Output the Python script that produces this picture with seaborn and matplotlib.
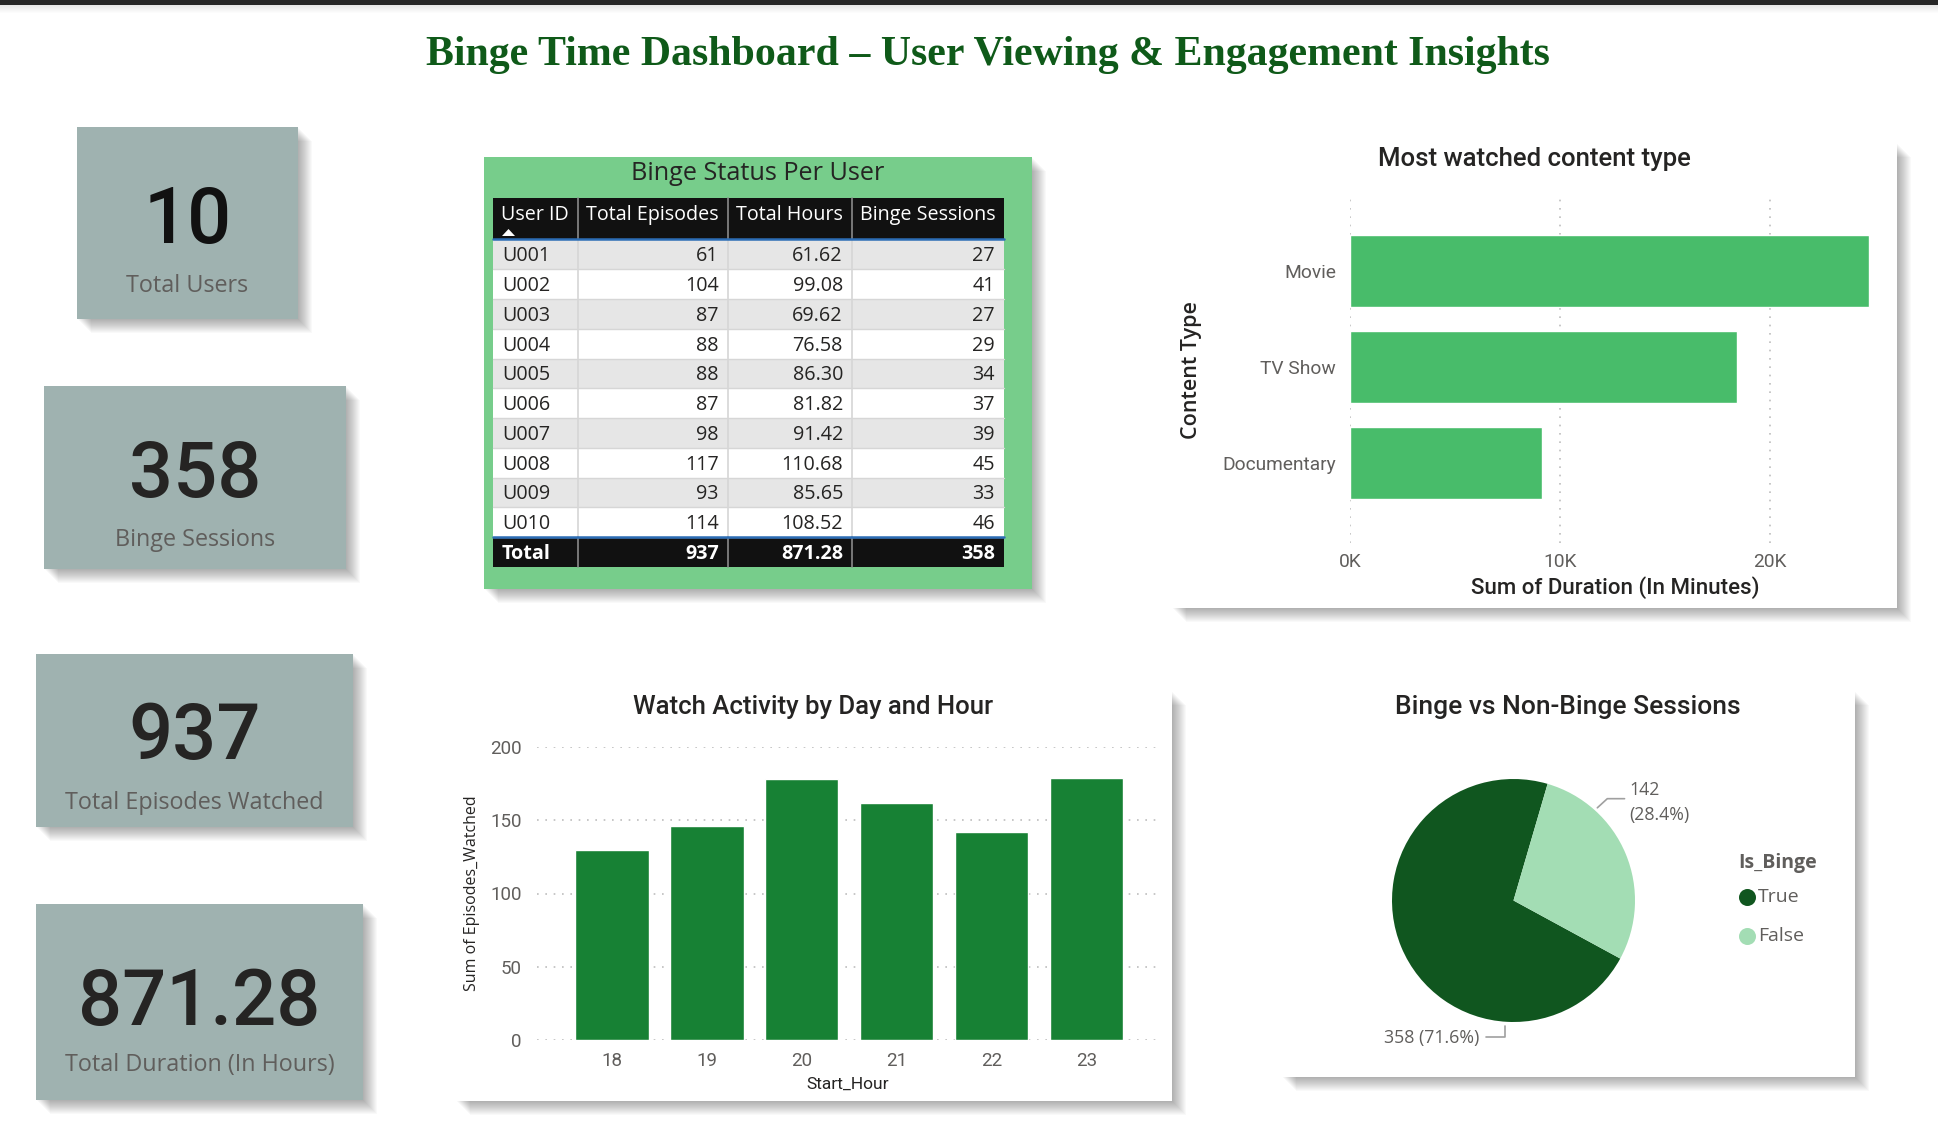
import pandas as pd
import seaborn as sns
import matplotlib.pyplot as plt
from matplotlib.patches import Rectangle, Polygon

W, H = 1938, 1124

# ---- data ----
dashboard_title = "Binge Time Dashboard – User Viewing & Engagement Insights"

kpi_values = ['10', '358', '937', '871.28']
kpi_labels = ['Total Users', 'Binge Sessions', 'Total Episodes Watched', 'Total Duration (In Hours)']

table_columns = ['User ID', 'Total Episodes', 'Total Hours', 'Binge Sessions']
user_ids = ['U001', 'U002', 'U003', 'U004', 'U005', 'U006', 'U007', 'U008', 'U009', 'U010']
total_episodes = [61, 104, 87, 88, 88, 87, 98, 117, 93, 114]
total_hours = [61.62, 99.08, 69.62, 76.58, 86.30, 81.82, 91.42, 110.68, 85.65, 108.52]
binge_sessions = [27, 41, 27, 29, 34, 37, 39, 45, 33, 46]
total_hours_shown = '871.28'

content_types = ['Movie', 'TV Show', 'Documentary']
content_minutes = [24700, 18430, 9147]

start_hours = ['18', '19', '20', '21', '22', '23']
episodes_by_hour = [130, 146, 178, 162, 142, 179]

binge_labels = ['True', 'False']
binge_counts = [358, 142]

sns.set_style('white')
plt.rcParams['font.family'] = ['Open Sans', 'DejaVu Sans']

fig = plt.figure(figsize=(W / 100, H / 100), dpi=100)
bg = fig.add_axes([0, 0, 1, 1])
bg.set_xlim(0, W)
bg.set_ylim(H, 0)
bg.axis('off')


def px_axes(x0, y0, x1, y1):
    return fig.add_axes([x0 / W, 1 - y1 / H, (x1 - x0) / W, (y1 - y0) / H])


def shadow(x0, y0, x1, y1, steps=14, alpha=0.022):
    for k in range(1, steps + 1):
        bg.add_patch(Rectangle((x0 + k, y0 + k), x1 - x0, y1 - y0,
                               facecolor='black', alpha=alpha, lw=0, zorder=1))


def panel(x0, y0, x1, y1, color='white'):
    shadow(x0, y0, x1, y1)
    bg.add_patch(Rectangle((x0, y0), x1 - x0, y1 - y0, facecolor=color, lw=0, zorder=2))


# top bar + title
bg.add_patch(Rectangle((0, 0), W, 5, facecolor='#262626', lw=0, zorder=3))
for k in range(8):
    bg.add_patch(Rectangle((0, 5), W, k + 1, facecolor='black', alpha=0.01, lw=0, zorder=2))
bg.text(988, 55, dashboard_title, fontfamily='Liberation Serif', fontweight='bold',
        fontsize=30.2, color='#0f5a19', ha='center', va='center', zorder=4)

# ---- KPI cards ----
cards = [(77, 127, 298, 319), (44, 386, 346, 569), (36, 654, 353, 827), (36, 904, 363, 1100)]
num_y = [222, 476, 738, 1003]
lab_y = [286, 540, 803, 1065]
for i, (x0, y0, x1, y1) in enumerate(cards):
    panel(x0, y0, x1, y1, '#9fb2b0')
    cx = (x0 + x1) / 2
    bg.text(cx, num_y[i], kpi_values[i], fontfamily='Roboto', fontweight='medium', fontsize=56,
            color='#111111' if i == 0 else '#252423', ha='center', va='center', zorder=4)
    bg.text(cx, lab_y[i], kpi_labels[i], fontsize=16.8, color='#605e5c',
            ha='center', va='center', zorder=4)

# ---- table ----
panel(484, 157, 1032, 589, '#77cd8b')
bg.text(758, 174, 'Binge Status Per User', fontsize=18.2, color='#252423',
        ha='center', va='center', zorder=4)

col_edges = [493, 578, 728, 852, 1004]
head_top, head_bot = 198, 239
row_top, row_h = 239.5, 29.75
n_rows = len(user_ids)
tot_top = row_top + n_rows * row_h
tot_bot = tot_top + 29.5
fs_tab = 14.2

bg.add_patch(Rectangle((493, head_top), 511, head_bot - head_top, facecolor='#111111', lw=0, zorder=3))
for i in range(n_rows):
    y0 = row_top + i * row_h
    bg.add_patch(Rectangle((493, y0), 511, row_h, facecolor='#e6e6e6' if i % 2 == 0 else 'white',
                           lw=0, zorder=3))
    bg.plot([493, 1004], [y0 + row_h, y0 + row_h], color='#d6d6d6', lw=1, zorder=4)
bg.add_patch(Rectangle((493, tot_top), 511, tot_bot - tot_top, facecolor='#111111', lw=0, zorder=3))
for xe in col_edges[1:-1]:
    bg.plot([xe, xe], [head_top, head_bot], color='#8a8a8a', lw=1.2, zorder=4)
    bg.plot([xe, xe], [row_top, tot_top], color='#d6d6d6', lw=1.2, zorder=4)
    bg.plot([xe, xe], [tot_top, tot_bot], color='#8a8a8a', lw=1.2, zorder=4)
bg.plot([493, 1004], [head_bot, head_bot], color='#2c6db5', lw=1.8, zorder=5)
bg.plot([493, 1004], [tot_top, tot_top], color='#2c6db5', lw=1.8, zorder=5)

for j, name in enumerate(table_columns):
    bg.text(col_edges[j] + 8, 215, name, fontsize=fs_tab, color='white', ha='left', va='center', zorder=5)
bg.add_patch(Polygon([[502, 236], [515, 236], [508.5, 229]], closed=True, facecolor='white', lw=0, zorder=5))

cells = [user_ids,
         [str(v) for v in total_episodes],
         [f'{v:.2f}' for v in total_hours],
         [str(v) for v in binge_sessions]]
totals = ['Total', str(sum(total_episodes)), total_hours_shown, str(sum(binge_sessions))]
for i in range(n_rows):
    yc = row_top + (i + 0.5) * row_h + 2
    for j in range(4):
        if j == 0:
            bg.text(col_edges[0] + 9, yc, cells[j][i], fontsize=fs_tab, color='#252423',
                    ha='left', va='center', zorder=5)
        else:
            bg.text(col_edges[j + 1] - 9, yc, cells[j][i], fontsize=fs_tab, color='#252423',
                    ha='right', va='center', zorder=5)
yc = (tot_top + tot_bot) / 2 + 2
for j in range(4):
    if j == 0:
        bg.text(col_edges[0] + 9, yc, totals[j], fontsize=fs_tab, fontweight='bold', color='white',
                ha='left', va='center', zorder=5)
    else:
        bg.text(col_edges[j + 1] - 9, yc, totals[j], fontsize=fs_tab, fontweight='bold', color='white',
                ha='right', va='center', zorder=5)

# ---- Most watched content type ----
panel(1172, 143, 1897, 608)
bg.text(1534, 159, 'Most watched content type', fontfamily='Roboto', fontweight='medium',
        fontsize=18.5, color='#252423', ha='center', va='center', zorder=4)
df_content = pd.DataFrame({'Content Type': content_types, 'Minutes': content_minutes})
ax1 = px_axes(1350, 197, 1880, 543)
sns.barplot(data=df_content, x='Minutes', y='Content Type', color='#48bc6a', saturation=1,
            width=0.75, ax=ax1, zorder=3)
ax1.set_xlim(0, 25240)
ax1.set_ylim(2.83, -0.77)
ax1.set_xticks([0, 10000, 20000])
ax1.set_xticklabels(['0K', '10K', '20K'])
ax1.xaxis.grid(True, linestyle=(0, (1, 4)), color='#bdbdbd', lw=1.2)
ax1.set_axisbelow(True)
ax1.patch.set_alpha(0)
sns.despine(ax=ax1, left=True, bottom=True)
ax1.tick_params(axis='x', length=0, pad=7, labelsize=13.8, labelcolor='#605e5c')
ax1.tick_params(axis='y', length=0, pad=10, labelsize=13.8, labelcolor='#605e5c')
for t in ax1.get_xticklabels() + ax1.get_yticklabels():
    t.set_fontfamily('Roboto')
ax1.set_xlabel('Sum of Duration (In Minutes)', fontfamily='Roboto', fontweight='medium',
               fontsize=16, color='#252423')
ax1.xaxis.set_label_coords(0.5, -(588 - 543) / 346)
ax1.xaxis.label.set_va('center')
ax1.set_ylabel('Content Type', fontsize=15.5, fontweight='semibold', color='#252423')
ax1.yaxis.set_label_coords((1192 - 1350) / 530, 0.5)
ax1.yaxis.label.set_va('center')

# ---- Watch Activity by Day and Hour ----
panel(456, 691, 1172, 1101)
bg.text(813, 707, 'Watch Activity by Day and Hour', fontfamily='Roboto', fontweight='medium',
        fontsize=18.5, color='#252423', ha='center', va='center', zorder=4)
df_hour = pd.DataFrame({'Start_Hour': start_hours, 'Episodes': episodes_by_hour})
ax2 = px_axes(537, 747, 1158, 1040)
sns.barplot(data=df_hour, x='Start_Hour', y='Episodes', color='#178134', saturation=1,
            width=0.77, ax=ax2, zorder=3)
ax2.set_xlim(-0.79, 5.75)
ax2.set_ylim(0, 200)
ax2.set_yticks([0, 50, 100, 150, 200])
ax2.yaxis.grid(True, linestyle=(0, (1, 4)), color='#bdbdbd', lw=1.2)
ax2.set_axisbelow(True)
ax2.patch.set_alpha(0)
sns.despine(ax=ax2, left=True, bottom=True)
ax2.tick_params(axis='x', length=0, pad=9, labelsize=13.5, labelcolor='#605e5c')
ax2.tick_params(axis='y', length=0, pad=11, labelsize=13.5, labelcolor='#605e5c')
for t in ax2.get_xticklabels() + ax2.get_yticklabels():
    t.set_fontfamily('Roboto')
ax2.set_xlabel('Start_Hour', fontfamily='Roboto', fontsize=12.5, color='#252423')
ax2.xaxis.set_label_coords(0.5, -(1084 - 1040) / 293)
ax2.xaxis.label.set_va('center')
ax2.set_ylabel('Sum of Episodes_Watched', fontsize=11.5, color='#252423')
ax2.yaxis.set_label_coords((472 - 537) / 621, 0.5)
ax2.yaxis.label.set_va('center')

# ---- Binge vs Non-Binge Sessions ----
panel(1282, 691, 1855, 1077)
bg.text(1568, 707, 'Binge vs Non-Binge Sessions', fontfamily='Roboto', fontweight='medium',
        fontsize=19, color='#252423', ha='center', va='center', zorder=4)
pie_colors = ['#10561f', '#a3ddb4']
ax3 = px_axes(1392, 779, 1635, 1022)
ax3.pie(binge_counts, colors=pie_colors, startangle=73.7, counterclock=True,
        wedgeprops={'linewidth': 0})
ax3.set_xlim(-1, 1)
ax3.set_ylim(-1, 1)
ax3.set_aspect('equal')
total_sessions = sum(binge_counts)
pct = [100 * c / total_sessions for c in binge_counts]
ax3.plot([0.69, 0.772, 0.914], [0.763, 0.838, 0.838], color='#a0a0a0', lw=1.2, clip_on=False)
ax3.text(0.955, 0.81, f'{binge_counts[1]}\n({pct[1]:.1f}%)', fontsize=12.8, color='#605e5c',
         ha='left', va='center', linespacing=1.5)
ax3.plot([-0.066, -0.066, -0.226], [-1.029, -1.126, -1.126], color='#a0a0a0', lw=1.2, clip_on=False)
ax3.text(-0.278, -1.135, f'{binge_counts[0]} ({pct[0]:.1f}%)', fontsize=12.8, color='#605e5c',
         ha='right', va='center')

bg.text(1738, 863, 'Is_Binge', fontsize=14, fontweight='bold', color='#605e5c',
        ha='left', va='center', zorder=4)
for i, lab in enumerate(binge_labels):
    yy = 897 + i * 39
    bg.scatter([1747], [yy], s=150, color=pie_colors[i], zorder=4, lw=0)
    bg.text(1758, yy, lab, fontsize=14, color='#605e5c', ha='left', va='center', zorder=4)

fig.savefig('out.png', dpi=100)
